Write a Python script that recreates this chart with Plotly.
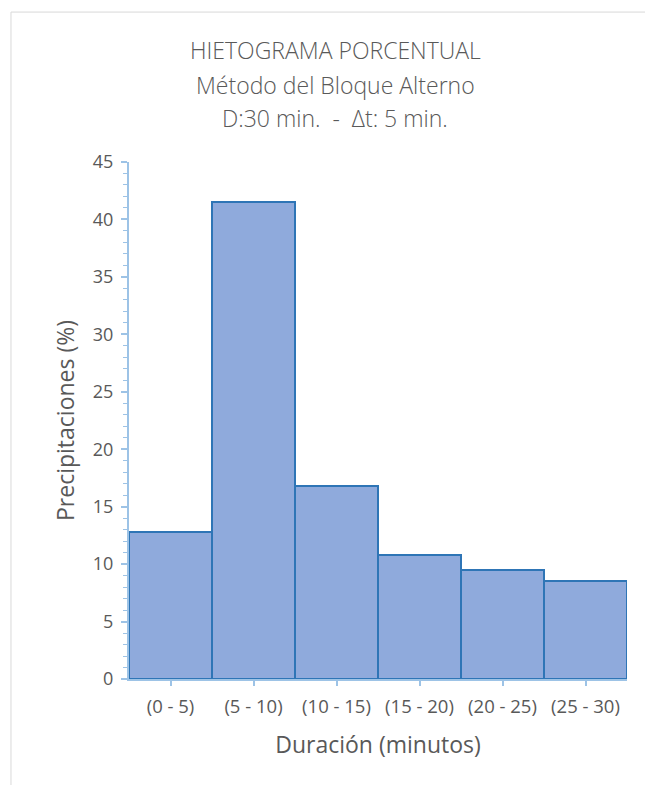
import plotly.graph_objects as go

# Hyetograph data (alternating block method, D = 30 min, dt = 5 min)
intervalos = ["(0 - 5)", "(5 - 10)", "(10 - 15)", "(15 - 20)", "(20 - 25)", "(25 - 30)"]
precipitacion_pct = [12.8, 41.5, 16.8, 10.8, 9.5, 8.5]

titulo_lineas = [
    "HIETOGRAMA PORCENTUAL",
    "Método del Bloque Alterno",
    "D:30 min.  -  Δt: 5 min.",
]

TEXT = "#595959"
AXIS = "#9DC3E6"
FONT = "Open Sans"

fig = go.Figure(
    go.Bar(
        x=intervalos,
        y=precipitacion_pct,
        marker=dict(color="#8FAADC", line=dict(color="#2E75B6", width=2)),
    )
)

fig.update_layout(
    width=645,
    height=785,
    margin=dict(l=129, r=18, t=162, b=106),
    paper_bgcolor="white",
    plot_bgcolor="white",
    bargap=0,
    showlegend=False,
    font=dict(family=FONT, color=TEXT),
)

# three-line heading, one annotation per line
for linea, ypos in zip(titulo_lineas, [1.217, 1.149, 1.085]):
    fig.add_annotation(
        text=linea, xref="paper", yref="paper", x=0.414, y=ypos,
        showarrow=False, xanchor="center", yanchor="middle",
        font=dict(family=FONT, size=23, color=TEXT, weight=300),
    )

fig.update_xaxes(
    showline=True, linecolor=AXIS, linewidth=2,
    ticks="outside", ticklen=5, tickcolor=AXIS, tickwidth=1.5,
    tickfont=dict(size=18.5, color=TEXT), ticklabelstandoff=5,
    title=dict(text="Duración (minutos)", font=dict(size=23, color=TEXT), standoff=20),
    showgrid=False,
)
fig.update_yaxes(
    range=[0, 45], dtick=5,
    showline=True, linecolor=AXIS, linewidth=2,
    ticks="outside", ticklen=6, tickcolor=AXIS, tickwidth=1.5,
    minor=dict(dtick=1, ticks="outside", ticklen=4, tickcolor=AXIS, tickwidth=1.2, showgrid=False),
    tickfont=dict(size=18, color=TEXT), ticklabelstandoff=4,
    title=dict(text="Precipitaciones (%)", font=dict(size=23, color=TEXT), standoff=12),
    showgrid=False, zeroline=False,
)

# chart-area frame
fig.add_shape(
    type="rect", xref="paper", yref="paper",
    x0=-0.237, x1=1.3, y0=-0.4, y1=1.290,
    line=dict(color="#D9D9D9", width=1), fillcolor="rgba(0,0,0,0)", layer="below",
)

fig.write_html("out.html")
